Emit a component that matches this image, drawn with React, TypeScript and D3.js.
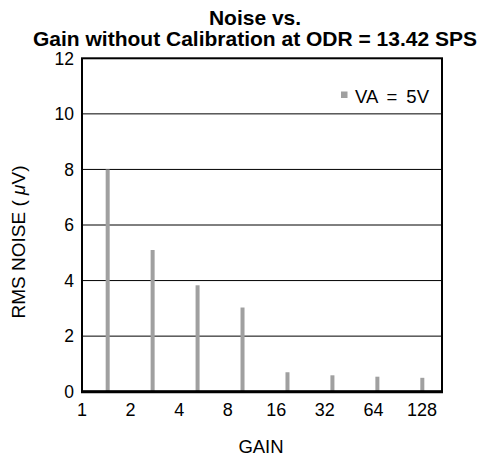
import * as React from 'react';
import * as d3 from 'd3';

const gains = ['1', '2', '4', '8', '16', '32', '64', '128'];
const noise = [8.0, 5.1, 3.83, 3.03, 0.7, 0.59, 0.54, 0.5];
const yTicks = [0, 2, 4, 6, 8, 10, 12];
const seriesName = 'VA = 5V';

const W = 482;
const H = 456;
const left = 82;
const right = 442;
const top = 58.3;
const bottom = 391.7;
const font = '"Liberation Sans", Arial, sans-serif';
const barColor = '#a0a0a0';

const App: React.FC = () => {
    const y = d3.scaleLinear().domain([0, 12]).range([bottom, top]);
    // bars sit in even bands, the labels under them follow their own spacing
    const xBar = d3.scaleBand().domain(gains).range([85.2, 444.8]);
    const xLabel = d3.scalePoint().domain(gains).range([82, 422]);

    return (
        <svg width={W} height={H} style={{ position: 'absolute', left: 0, top: 0 }} fontFamily={font}>
            <rect width={W} height={H} fill="white" />
            <text x={255} y={25} textAnchor="middle" fontSize={21} fontWeight="bold">Noise vs.</text>
            <text x={255} y={46} textAnchor="middle" fontSize={21} fontWeight="bold">
                Gain without Calibration at ODR = 13.42 SPS
            </text>

            {yTicks.filter(t => t > 0 && t < 12).map(t => (
                <line key={t} x1={left} x2={right} y1={y(t)} y2={y(t)} stroke="black" strokeWidth={1} />
            ))}

            {gains.map((g, i) => (
                <rect key={g}
                    x={xBar(g)! + xBar.bandwidth() / 2 - 2}
                    y={y(noise[i])}
                    width={4}
                    height={bottom - y(noise[i])}
                    fill={barColor} />
            ))}

            <rect x={left} y={top} width={right - left} height={bottom - top}
                fill="none" stroke="black" strokeWidth={2} />
            <line x1={left - 1} x2={right + 1} y1={bottom} y2={bottom} stroke="black" strokeWidth={3} />

            {yTicks.map(t => (
                <text key={t} x={74} y={y(t) + 6.3} textAnchor="end" fontSize={17.5}>{t}</text>
            ))}
            {gains.map(g => (
                <text key={g} x={xLabel(g)} y={416} textAnchor="middle" fontSize={18}>{g}</text>
            ))}

            <rect x={341} y={91.5} width={6.5} height={6.5} fill={barColor} />
            <text x={355} y={103} fontSize={18.5} wordSpacing={4}>{seriesName}</text>

            <text x={261} y={453} textAnchor="middle" fontSize={18.5}>GAIN</text>
            <text transform={`translate(25, 242) rotate(-90)`} textAnchor="middle" fontSize={19}>
                RMS NOISE ( <tspan fontStyle="italic">μ</tspan>V)
            </text>
        </svg>
    );
};

export default App;
